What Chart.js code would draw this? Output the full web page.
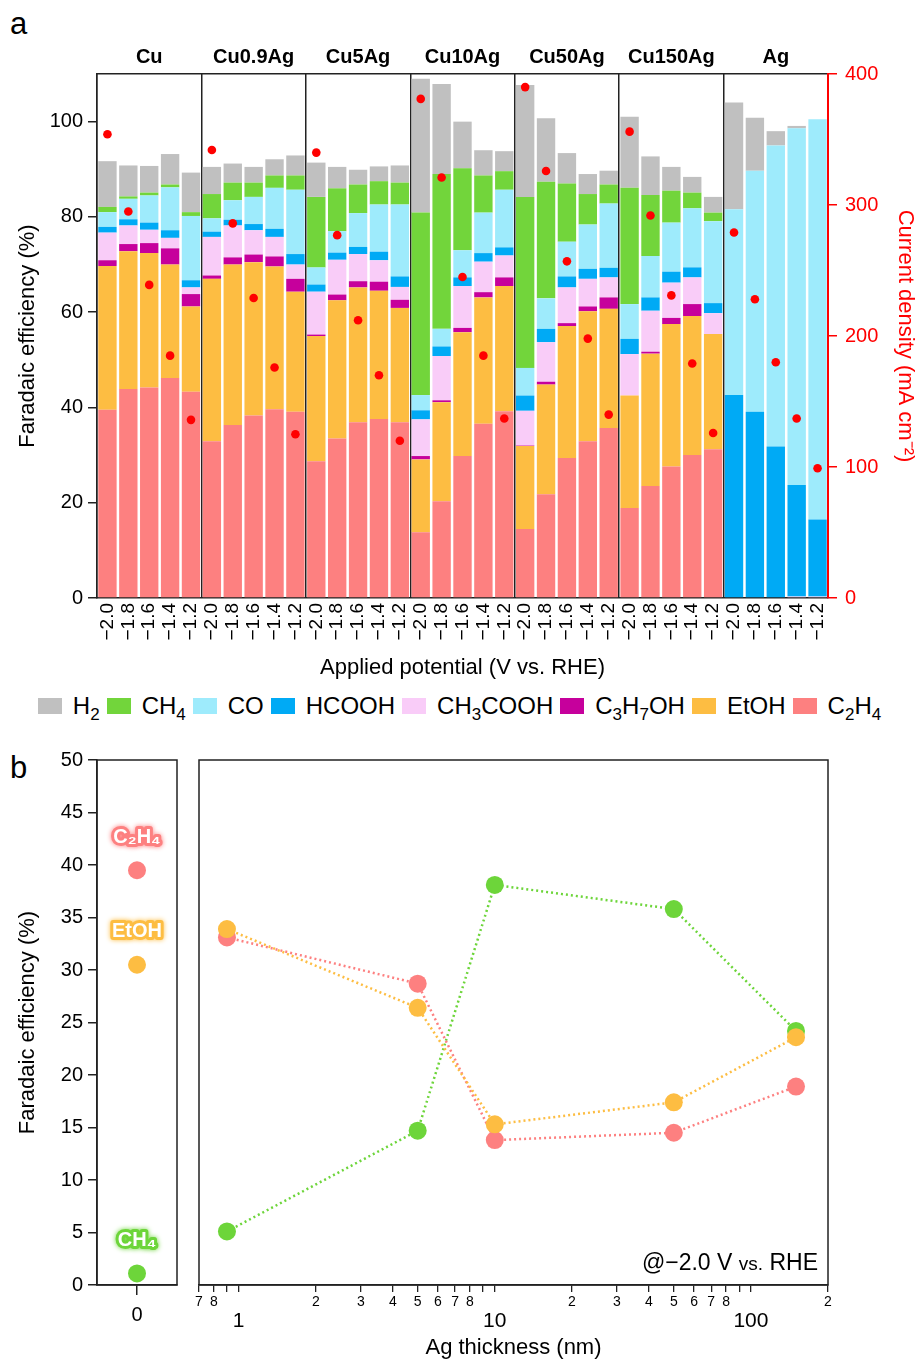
<!DOCTYPE html>
<html>
<head>
<meta charset="utf-8">
<script src="https://cdn.jsdelivr.net/npm/chart.js@4.4.0/dist/chart.umd.min.js"></script>
<style>
  body { margin: 0; background: #fff; width: 919px; height: 1361px; position: relative; overflow: hidden;
         font-family: "Liberation Sans", Arial, sans-serif; color: #000; }
  canvas { position: absolute; }
  .letter { position: absolute; font-size: 31px; line-height: 1; }
  #legend { position: absolute; top: 692px; left: 0; width: 919px; display: flex; justify-content: center;
            align-items: center; font-size: 24px; gap: 7px; }
  #legend .item { display: flex; align-items: center; white-space: nowrap; }
  #legend .sw { width: 24px; height: 16px; margin-right: 11px; }
  #legend .tx { display: inline-block; line-height: 28px; }
  #legend sub { font-size: 17px; vertical-align: -6px; line-height: 0; }
</style>
</head>
<body>
<div class="letter" style="left:10px;top:8px;">a</div>
<div class="letter" style="left:10px;top:752px;">b</div>
<canvas id="chartA" width="919" height="690" style="left:0;top:0;"></canvas>
<div id="legend"></div>
<canvas id="chartB1" width="190" height="621" style="left:0;top:740px;"></canvas>
<canvas id="chartB2" width="729" height="621" style="left:190px;top:740px;"></canvas>
<script>
// ---- panel a data ----
const groups = ['Cu', 'Cu0.9Ag', 'Cu5Ag', 'Cu10Ag', 'Cu50Ag', 'Cu150Ag', 'Ag'];
const potentials = ['−2.0', '−1.8', '−1.6', '−1.4', '−1.2'];
const feTicks = [0, 20, 40, 60, 80, 100];
const jTicks = [0, 100, 200, 300, 400];

// stacked from bottom (C2H4) to top (H2); 5 potentials per group
const feC2H4 = [39.5, 43.9, 44.2, 46.2, 43.3, 32.9, 36.3, 38.3, 39.6, 39.1, 28.7, 33.5, 36.9, 37.6, 36.9,
                13.8, 20.3, 29.8, 36.6, 39.2, 14.5, 21.8, 29.4, 32.9, 35.7, 18.9, 23.5, 27.6, 30.0, 31.2, 0, 0, 0, 0, 0];
const feEtOH = [30.2, 28.9, 28.2, 23.8, 17.9, 34.1, 33.7, 32.2, 30.0, 25.2, 26.3, 29.0, 28.3, 26.9, 24.0,
                15.3, 20.8, 26.0, 26.5, 26.3, 17.4, 23.0, 27.7, 27.3, 25.0, 23.6, 27.8, 29.9, 29.2, 24.2, 0, 0, 0, 0, 0];
const feC3H7OH = [1.2, 1.5, 2.1, 3.4, 2.6, 0.7, 1.5, 1.6, 2.1, 2.7, 0.3, 1.2, 1.3, 1.9, 1.7,
                  0.7, 0.4, 0.9, 1.1, 1.8, 0.1, 0.6, 0.6, 1.0, 2.4, 0, 0.4, 1.3, 2.5, 0, 0, 0, 0, 0, 0];
const feCH3COOH = [5.8, 3.9, 2.8, 2.2, 1.4, 8.1, 6.7, 5.1, 4.1, 3.0, 9.0, 7.3, 5.7, 4.5, 2.7,
                   7.7, 9.3, 8.8, 6.4, 4.6, 7.3, 8.3, 7.5, 5.8, 4.2, 8.7, 8.6, 7.4, 5.6, 4.4, 0, 0, 0, 0.3, 0.3];
const feHCOOH = [1.2, 1.3, 1.5, 1.6, 1.5, 1.1, 1.2, 1.3, 1.7, 2.2, 1.5, 1.5, 1.5, 1.8, 2.2,
                 1.9, 2.0, 1.8, 1.8, 1.7, 3.2, 2.8, 2.3, 2.1, 2.0, 3.2, 2.8, 2.3, 2.1, 2.1, 42.6, 39.1, 31.8, 23.4, 16.2];
const feCO = [3.1, 4.3, 5.7, 9.0, 13.5, 2.8, 4.1, 5.7, 8.6, 13.5, 3.6, 4.5, 7.1, 9.9, 15.1,
              3.2, 3.7, 5.7, 8.5, 12.1, 5.8, 6.4, 7.3, 9.3, 13.5, 7.3, 8.7, 10.3, 12.4, 17.2, 39.0, 50.6, 63.2, 74.9, 84.0];
const feCH4 = [1.1, 0.5, 0.6, 0.6, 0.8, 5.1, 3.7, 3.0, 2.6, 3.0, 14.8, 9.0, 6.0, 4.9, 4.6,
               38.3, 32.5, 17.2, 7.8, 3.9, 35.9, 24.5, 12.2, 6.4, 4.0, 24.4, 12.8, 6.7, 3.3, 1.8, 0, 0, 0, 0, 0];
const feH2 = [9.6, 6.5, 5.6, 6.4, 8.3, 5.7, 4.0, 3.3, 3.4, 4.2, 7.2, 4.5, 3.1, 3.1, 3.6,
              28.1, 18.9, 9.8, 5.3, 4.2, 23.5, 13.3, 6.4, 4.2, 2.9, 14.9, 8.1, 5.0, 3.3, 3.3, 22.4, 11.1, 3.0, 0.5, 0];
const currentDensity = [354, 295, 239, 185, 136, 342, 286, 229, 176, 125, 340, 277, 212, 170, 120,
                        381, 321, 245, 185, 137, 390, 326, 257, 198, 140, 356, 292, 231, 179, 126, 279, 228, 180, 137, 99];

const products = ['C₂H₄', 'EtOH', 'C₃H₇OH', 'CH₃COOH', 'HCOOH', 'CO', 'CH₄', 'H₂'];
const productsHtml = ['C<sub>2</sub>H<sub>4</sub>', 'EtOH', 'C<sub>3</sub>H<sub>7</sub>OH', 'CH<sub>3</sub>COOH',
                      'HCOOH', 'CO', 'CH<sub>4</sub>', 'H<sub>2</sub>'];
const productColors = ['#fd8080', '#fdbd42', '#c6009c', '#f9ccf8', '#00aaf5', '#9eebfc', '#72d53b', '#c0c0c0'];
const feValues = [feC2H4, feEtOH, feC3H7OH, feCH3COOH, feHCOOH, feCO, feCH4, feH2];

// ---- panel b data ----
const cuProducts = ['C₂H₄', 'EtOH', 'CH₄'];
const cuFE = [39.5, 30.5, 1.1];
const bColors = ['#fd8080', '#fdbd42', '#6dd53a'];
const bTicks = [0, 5, 10, 15, 20, 25, 30, 35, 40, 45, 50];
const agThickness = [0.9, 5, 10, 50, 150];
const bC2H4 = [33.1, 28.7, 13.8, 14.5, 18.9];
const bEtOH = [33.9, 26.4, 15.3, 17.4, 23.6];
const bCH4 = [5.1, 14.7, 38.1, 35.8, 24.2];
const logTickValues = [0.7, 0.8, 0.9, 1, 2, 3, 4, 5, 6, 7, 8, 9, 10, 20, 30, 40, 50, 60, 70, 80, 90, 100, 200];
const logTickLabels = ['7', '8', '', '1', '2', '3', '4', '5', '6', '7', '8', '', '10', '2', '3', '4', '5', '6', '7', '8', '', '100', '2'];
const logMajor = ['1', '10', '100'];

const FONT = '"Liberation Sans", Arial, sans-serif';
Chart.defaults.font.family = FONT;
Chart.defaults.color = '#000';
const AX = '#222';

// ---- panel a ----
const categories = groups.flatMap(() => potentials);
const barSets = products.map((p, i) => ({
  type: 'bar',
  label: p,
  data: feValues[i],
  backgroundColor: productColors[i],
  borderWidth: 0,
  barPercentage: 0.88,
  categoryPercentage: 1,
  yAxisID: 'y',
  order: 1
}));

new Chart(document.getElementById('chartA'), {
  data: {
    labels: categories,
    datasets: [{
      type: 'line',
      label: 'Current density',
      data: currentDensity,
      yAxisID: 'y1',
      showLine: false,
      pointRadius: 4.3,
      pointBackgroundColor: '#ff0000',
      pointBorderWidth: 0,
      order: 0
    }, ...barSets]
  },
  options: {
    responsive: false,
    animation: false,
    layout: { padding: 0 },
    plugins: { legend: { display: false }, tooltip: { enabled: false } },
    scales: {
      x: {
        type: 'category',
        position: 'bottom',
        stacked: true,
        grid: {
          offset: true,
          drawTicks: false,
          lineWidth: 1.5,
          color: c => (c.index === undefined || c.index % 5 === 0) ? AX : 'rgba(0,0,0,0)'
        },
        border: { display: true, color: AX, width: 1.5 },
        ticks: { autoSkip: false, maxRotation: 90, minRotation: 90, padding: 5, font: { size: 19 } },
        title: { display: true, text: 'Applied potential (V vs. RHE)', font: { size: 22 }, padding: { top: 0, bottom: 9 } },
        afterFit: s => { s.height = 92; }
      },
      x2: {
        type: 'category',
        position: 'top',
        labels: groups,
        offset: true,
        grid: { display: false, drawTicks: false },
        border: { display: true, color: AX, width: 1.5 },
        ticks: { padding: 5, font: { size: 20, weight: 'bold' } },
        afterFit: s => { s.height = 74; }
      },
      y: {
        position: 'left',
        stacked: true,
        min: 0,
        max: 110,
        afterBuildTicks: s => { s.ticks = feTicks.map(v => ({ value: v })); },
        grid: { drawOnChartArea: false, tickLength: 9, color: AX, lineWidth: 1.5 },
        border: { display: true, color: AX, width: 1.5 },
        ticks: { padding: 5, font: { size: 20 } },
        title: { display: true, text: 'Faradaic efficiency (%)', font: { size: 22 }, padding: { top: 15 } },
        afterFit: s => { s.width = 97; }
      },
      y1: {
        position: 'right',
        min: 0,
        max: 400,
        afterBuildTicks: s => { s.ticks = jTicks.map(v => ({ value: v })); },
        grid: { drawOnChartArea: false, tickLength: 9, color: '#ff0000', lineWidth: 1.5 },
        border: { display: true, color: '#ff0000', width: 2 },
        ticks: { padding: 8, color: '#ff0000', font: { size: 20 } },
        title: { display: true, text: 'Current density (mA cm⁻²)', color: '#ff0000', font: { size: 22 }, padding: { top: 1 } },
        afterFit: s => { s.width = 91; }
      }
    }
  }
});

// legend (same order as the stack, top first)
const legendEl = document.getElementById('legend');
for (let i = products.length - 1; i >= 0; i--) {
  const item = document.createElement('div');
  item.className = 'item';
  item.innerHTML = '<span class="sw" style="background:' + productColors[i] + '"></span><span class="tx">' + productsHtml[i] + '</span>';
  legendEl.appendChild(item);
}

// ---- panel b ----
const framePlugin = {
  id: 'frame',
  afterDraw(chart) {
    const { ctx, chartArea: a } = chart;
    ctx.save();
    ctx.strokeStyle = AX;
    ctx.lineWidth = 1.5;
    ctx.strokeRect(a.left, a.top, a.right - a.left, a.bottom - a.top);
    ctx.restore();
  }
};

const tagPlugin = {
  id: 'tags',
  afterDatasetsDraw(chart) {
    const { ctx, scales: { x, y } } = chart;
    ctx.save();
    ctx.font = 'bold 20px ' + FONT;
    ctx.textAlign = 'center';
    ctx.textBaseline = 'middle';
    ctx.lineJoin = 'round';
    cuProducts.forEach((name, i) => {
      const px = x.getPixelForValue(0);
      const py = y.getPixelForValue(cuFE[i]) - 33;
      ctx.strokeStyle = bColors[i];
      ctx.shadowColor = bColors[i];
      ctx.shadowBlur = 5;
      ctx.lineWidth = 6;
      ctx.strokeText(name, px, py);
      ctx.shadowBlur = 0;
      ctx.fillStyle = '#fff';
      ctx.fillText(name, px, py);
    });
    ctx.restore();
  }
};

new Chart(document.getElementById('chartB1'), {
  type: 'scatter',
  data: {
    datasets: cuProducts.map((p, i) => ({
      label: p,
      data: [{ x: 0, y: cuFE[i] }],
      pointRadius: 9,
      pointBackgroundColor: bColors[i],
      pointBorderWidth: 0
    }))
  },
  options: {
    responsive: false,
    animation: false,
    layout: { padding: { top: 20, right: 13, left: 0, bottom: 0 } },
    plugins: { legend: { display: false }, tooltip: { enabled: false } },
    scales: {
      x: {
        type: 'linear',
        min: -1,
        max: 1,
        afterBuildTicks: s => { s.ticks = [{ value: 0 }]; },
        grid: { drawOnChartArea: false, tickLength: 10, color: AX, lineWidth: 1.5 },
        border: { display: true, color: AX, width: 1.5 },
        ticks: { padding: 8, font: { size: 20 } },
        afterFit: s => { s.height = 76; }
      },
      y: {
        min: 0,
        max: 50,
        afterBuildTicks: s => { s.ticks = bTicks.map(v => ({ value: v })); },
        grid: { drawOnChartArea: false, tickLength: 9, color: AX, lineWidth: 1.5 },
        border: { display: true, color: AX, width: 1.5 },
        ticks: { padding: 5, font: { size: 20 } },
        title: { display: true, text: 'Faradaic efficiency (%)', font: { size: 22 }, padding: { top: 15 } },
        afterFit: s => { s.width = 97; }
      }
    }
  },
  plugins: [framePlugin, tagPlugin]
});

const notePlugin = {
  id: 'note',
  afterDraw(chart) {
    const { ctx, chartArea: a } = chart;
    const parts = [['@−2.0 V ', 23], ['vs.', 19], [' RHE', 23]];
    ctx.save();
    ctx.fillStyle = '#000';
    ctx.textBaseline = 'alphabetic';
    ctx.textAlign = 'left';
    let w = 0;
    parts.forEach(([t, s]) => { ctx.font = s + 'px ' + FONT; w += ctx.measureText(t).width; });
    let x = a.right - 10 - w;
    const y = a.bottom - 15;
    parts.forEach(([t, s]) => {
      ctx.font = s + 'px ' + FONT;
      ctx.fillText(t, x, y);
      x += ctx.measureText(t).width;
    });
    ctx.restore();
  }
};

const lineSet = (label, vals, color) => ({
  label: label,
  data: agThickness.map((t, i) => ({ x: t, y: vals[i] })),
  borderColor: color,
  borderWidth: 2.5,
  borderDash: [2, 3],
  pointRadius: 9,
  pointBackgroundColor: color,
  pointBorderWidth: 0,
  tension: 0
});

new Chart(document.getElementById('chartB2'), {
  type: 'line',
  data: {
    datasets: [
      lineSet('EtOH', bEtOH, bColors[1]),
      lineSet('C₂H₄', bC2H4, bColors[0]),
      lineSet('CH₄', bCH4, bColors[2])
    ]
  },
  options: {
    responsive: false,
    animation: false,
    layout: { padding: { top: 20, right: 91, left: 9, bottom: 0 } },
    plugins: { legend: { display: false }, tooltip: { enabled: false } },
    scales: {
      x: {
        type: 'logarithmic',
        min: 0.7,
        max: 200,
        afterBuildTicks: s => {
          s.ticks = logTickValues.map((v, i) => ({ value: v, major: logMajor.includes(logTickLabels[i]) }));
        },
        grid: { drawOnChartArea: false, tickLength: 7, color: AX, lineWidth: 1.3 },
        border: { display: true, color: AX, width: 1.5 },
        ticks: {
          autoSkip: false,
          maxRotation: 0,
          padding: 2,
          font: c => (c.tick && c.tick.major) ? { size: 21, lineHeight: 0.85 } : { size: 14 },
          callback: (v, i) => logMajor.includes(logTickLabels[i]) ? ['', logTickLabels[i]] : logTickLabels[i]
        },
        title: { display: true, text: 'Ag thickness (nm)', font: { size: 22 }, padding: { top: 0, bottom: 0 } },
        afterFit: s => { s.height = 76; }
      },
      y: { display: false, min: 0, max: 50 }
    }
  },
  plugins: [framePlugin, notePlugin]
});
</script>
</body>
</html>
